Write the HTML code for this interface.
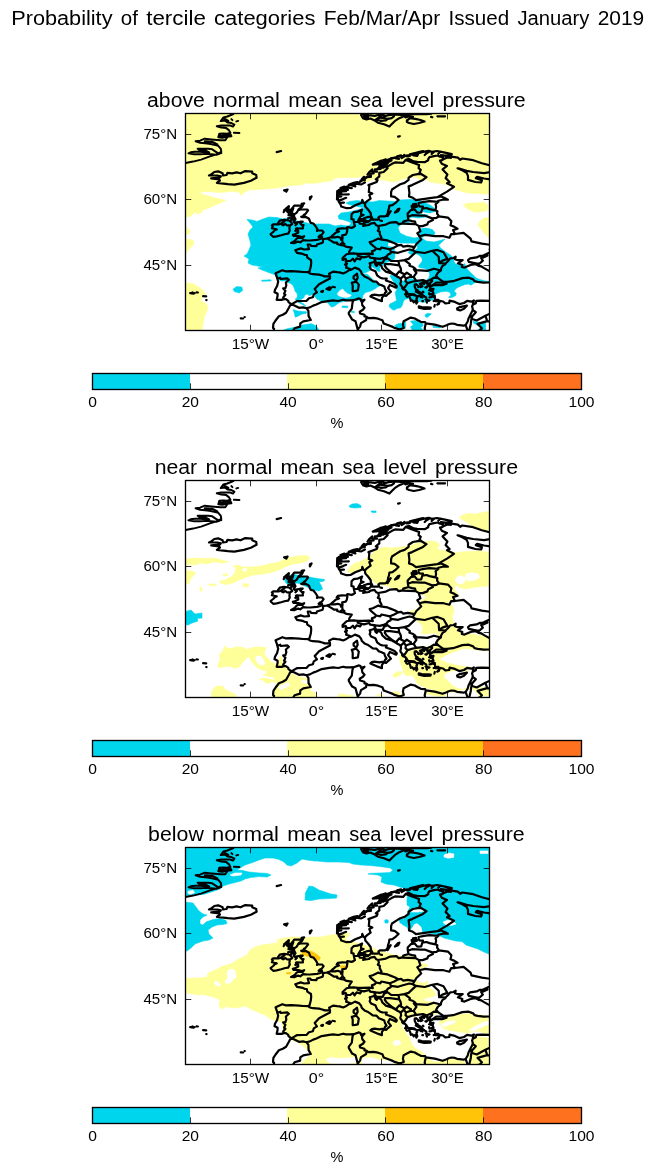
<!DOCTYPE html>
<html><head><meta charset="utf-8"><title>Probability of tercile categories</title>
<style>html,body{margin:0;padding:0;background:#fff}svg{display:block}text{font-family:"Liberation Sans",sans-serif;fill:#000}</style></head><body>
<div style="width:655px;height:1174px;will-change:transform;transform:translateZ(0);overflow:hidden">
<svg width="655" height="1174" viewBox="0 0 655 1174">
<rect width="655" height="1174" fill="#fff"/>
<defs>
<clipPath id="mapclip"><rect x="185.5" y="113.5" width="304" height="217"/></clipPath>
<g id="coast" fill="none" stroke="#000" stroke-width="2.2" stroke-linejoin="round" stroke-linecap="round">
<path d="M216.9,182.9 L227.8,184.2 L234.3,184.7 L243.9,182.9 L250.9,180.7 L256.6,177.7 L256.2,175.0 L252.2,173.3 L252.2,171.6 L245.3,171.1 L240.5,173.3 L236.5,172.4 L232.2,173.3 L227.4,172.9 L226.5,175.0 L223.0,175.5 L222.6,173.3 L218.2,171.3 L214.3,172.0 L211.6,174.2 L209.0,175.5 L217.3,175.5 L220.8,176.4 L219.5,177.7 L211.2,178.3 L219.1,179.4 L219.9,180.7 L216.9,182.9Z M291.1,242.9 L294.2,243.2 L298.1,241.6 L300.3,242.3 L302.9,240.1 L307.3,240.5 L310.3,240.5 L316.9,239.9 L320.4,239.0 L322.1,238.1 L322.1,237.1 L318.6,236.8 L319.9,235.5 L321.7,234.9 L323.6,232.2 L322.1,230.5 L318.2,230.3 L316.9,230.9 L317.5,229.6 L316.4,227.4 L315.1,225.7 L313.4,223.5 L310.8,222.9 L309.9,221.3 L309.0,218.7 L307.3,217.8 L306.0,217.0 L302.0,217.1 L301.2,216.8 L304.6,215.7 L303.8,215.0 L305.5,213.9 L306.8,212.2 L308.1,210.4 L307.3,209.5 L300.7,209.5 L298.1,210.2 L299.0,208.9 L302.0,206.9 L302.9,205.4 L294.2,205.6 L292.9,207.4 L290.7,210.0 L291.5,211.3 L290.7,213.5 L288.9,213.9 L291.5,215.2 L292.0,217.0 L291.1,220.0 L293.3,219.2 L294.6,217.4 L295.5,219.2 L293.7,221.8 L294.6,222.9 L298.5,222.2 L300.7,221.6 L302.7,221.6 L300.3,223.5 L302.0,225.3 L303.6,225.0 L302.7,226.8 L302.9,228.3 L301.2,228.5 L296.8,228.3 L295.9,228.8 L297.0,229.6 L295.3,230.9 L298.1,230.5 L298.3,232.5 L295.5,234.0 L292.9,234.9 L293.7,236.0 L297.2,236.0 L299.0,236.2 L302.0,237.1 L304.2,236.2 L302.9,237.9 L297.7,237.9 L296.4,238.8 L295.3,240.3 L293.9,241.4 L291.1,242.9Z M288.3,233.7 L285.4,234.0 L281.1,235.3 L276.7,236.4 L273.2,236.8 L271.5,235.3 L270.6,234.0 L273.2,232.0 L275.0,230.1 L276.7,229.4 L271.9,228.3 L272.8,226.6 L271.9,225.3 L273.2,224.4 L278.9,224.4 L278.0,223.1 L279.8,220.7 L284.1,219.8 L288.9,220.5 L291.1,222.2 L292.2,224.0 L289.8,225.7 L289.4,228.8 L289.8,230.5 L288.9,232.2 L288.3,233.7Z M495.0,171.6 L490.7,172.0 L484.1,173.1 L473.2,172.0 L466.6,170.9 L459.2,168.5 L457.5,168.3 L462.3,170.2 L466.6,172.9 L468.0,175.9 L468.0,179.9 L475.4,182.0 L481.1,182.5 L481.9,180.3 L475.8,178.1 L477.1,176.8 L484.1,178.5 L490.7,179.4 L492.9,179.9 L495.0,175.5 M497.2,169.8 L495.0,168.1 L492.0,165.9 L481.9,163.3 L473.2,160.2 L462.3,158.5 L460.1,159.8 L457.9,157.6 L451.4,156.7 L450.5,156.7 L446.1,156.3 L451.8,154.1 L442.6,152.1 L437.0,151.0 L431.7,151.9 L428.7,150.8 L423.0,151.9 L418.6,153.2 L409.9,155.0 L399.0,156.7 L392.4,158.0 L385.9,160.6 L381.5,160.6 L372.8,164.6 L383.7,163.7 L388.1,162.8 L383.7,167.6 L378.9,167.6 L372.8,172.4 L370.6,175.5 L364.9,178.5 L359.7,182.0 L355.3,184.2 L350.9,185.1 L346.6,186.8 L338.7,189.9 L337.8,192.9 L337.4,195.1 L337.8,197.8 L338.7,201.7 L340.5,204.3 L341.3,206.5 L346.6,208.2 L350.9,207.8 L355.3,205.2 L358.8,203.9 L361.9,202.6 L362.3,199.9 L363.6,203.0 L364.9,203.4 L365.3,206.5 L368.0,209.5 L370.6,213.0 L371.0,215.7 L372.3,218.3 L372.3,219.6 L378.0,219.6 L378.9,218.9 L378.4,217.4 L380.2,216.3 L384.1,216.3 L385.9,216.1 L387.6,213.9 L388.1,210.9 L388.9,208.7 L389.4,205.6 L392.4,205.2 L395.9,202.6 L398.5,199.9 L394.6,196.9 L391.1,196.4 L391.1,192.1 L392.0,189.5 L396.8,186.4 L400.3,184.2 L404.6,182.9 L408.6,179.9 L408.6,177.7 L412.9,175.0 L417.7,174.2 L421.5,174.2 L426.5,177.2 L423.0,179.9 L416.4,182.9 L412.1,185.1 L408.6,186.4 L409.0,189.5 L409.4,192.9 L409.0,196.4 L412.9,197.8 L416.0,200.2 L424.7,198.8 L431.7,197.8 L437.4,197.1 L441.3,196.4 L445.7,198.6 L447.9,199.7 L442.6,199.7 L438.3,200.8 L438.3,201.9 L429.5,201.2 L423.9,201.9 L418.6,203.0 L418.6,205.2 L419.5,206.5 L423.0,206.7 L422.3,208.7 L421.2,212.4 L417.3,212.6 L414.7,209.5 L410.8,210.2 L407.7,213.5 L407.7,214.8 L407.9,216.7 L408.1,218.3 L408.6,220.0 L403.3,221.6 L402.9,222.9 L401.6,223.7 L398.7,224.2 L396.8,222.4 L395.9,222.1 L390.2,222.6 L385.9,224.6 L378.2,226.0 L376.3,225.3 L374.5,222.9 L370.6,223.7 L368.8,225.0 L364.0,225.7 L363.2,225.9 L364.5,224.0 L359.7,223.7 L359.2,222.2 L357.9,221.3 L358.8,219.2 L360.5,216.3 L363.6,215.0 L361.0,214.3 L361.0,212.6 L362.1,209.5 L357.5,211.7 L353.6,212.2 L351.6,214.3 L351.4,218.9 L353.6,219.6 L353.8,221.8 L354.4,224.4 L354.9,226.1 L353.1,227.4 L351.4,227.9 L347.4,227.0 L346.6,228.5 L342.2,228.3 L337.8,228.8 L336.7,230.3 L339.1,231.4 L335.6,232.7 L333.9,234.4 L331.7,236.2 L330.7,237.2 L327.1,238.5 L323.0,239.2 L323.0,241.4 L322.6,242.7 L316.9,244.5 L316.4,246.2 L311.2,246.0 L310.3,244.5 L307.7,244.5 L309.0,249.1 L304.2,249.5 L300.7,248.4 L295.3,250.2 L297.0,252.8 L302.9,253.9 L305.1,255.0 L306.8,255.0 L307.3,257.6 L311.0,260.0 L311.2,262.8 L310.8,266.5 L309.4,271.6 L308.1,272.1 L302.9,272.0 L299.4,271.6 L291.1,271.1 L285.4,271.3 L282.4,270.2 L275.6,273.3 L277.1,277.7 L277.3,278.7 L278.2,281.8 L277.1,286.0 L275.0,289.7 L274.5,292.2 L275.8,292.7 L277.6,293.8 L277.6,295.8 L276.7,299.8 L281.5,299.9 L283.7,299.1 L285.9,299.1 L288.3,300.8 L288.5,302.1 L291.5,304.3 L292.6,303.6 L296.8,301.2 L302.9,301.0 L306.4,301.0 L309.0,298.2 L312.9,297.3 L313.8,294.3 L316.9,292.3 L314.7,289.0 L319.1,284.2 L325.6,280.7 L330.0,278.5 L330.0,276.2 L329.1,273.7 L333.0,271.6 L337.0,272.2 L339.6,272.4 L343.1,273.5 L345.3,272.6 L348.8,270.3 L351.8,269.4 L354.9,267.6 L358.8,269.1 L361.0,271.6 L361.9,274.0 L364.5,276.4 L367.5,277.7 L369.7,279.2 L372.8,281.4 L376.3,281.6 L378.0,283.3 L378.7,284.2 L381.5,285.3 L384.3,286.6 L385.0,289.0 L386.5,291.6 L385.0,292.9 L384.3,295.6 L386.3,295.8 L388.3,293.8 L390.9,291.6 L388.1,288.1 L389.8,284.9 L394.6,287.1 L396.3,287.7 L396.8,286.2 L394.6,284.0 L390.2,282.0 L385.9,280.5 L386.7,278.5 L382.4,278.4 L380.2,277.7 L377.1,275.3 L375.4,271.3 L371.0,269.4 L369.7,267.2 L370.4,265.0 L369.7,263.3 L373.2,262.2 L376.0,262.2 L374.9,263.0 L375.4,264.6 L376.7,265.9 L378.4,263.7 L381.1,265.4 L382.4,268.5 L385.9,271.6 L392.4,273.7 L395.0,275.3 L396.8,276.4 L399.4,277.7 L400.7,278.8 L401.1,281.2 L400.3,283.8 L400.9,285.3 L403.3,288.1 L406.4,291.2 L408.1,294.0 L410.8,294.0 L413.8,294.3 L416.0,295.6 L412.9,294.9 L410.8,294.7 L409.0,296.0 L410.3,298.6 L410.8,300.8 L412.5,300.4 L413.8,302.3 L415.3,300.8 L417.3,302.3 L416.4,298.6 L417.3,297.8 L416.4,296.0 L419.5,295.8 L421.0,297.1 L421.0,294.7 L417.7,292.5 L415.8,291.6 L416.4,290.3 L417.7,290.3 L416.0,289.5 L414.7,286.8 L414.7,284.6 L416.0,284.2 L418.2,286.0 L418.2,287.1 L419.9,286.4 L420.8,287.1 L422.5,286.2 L419.9,283.8 L422.5,282.7 L426.0,282.7 L429.8,283.6 L430.4,285.5 L430.4,286.6 L432.6,285.1 L436.1,282.7 L442.4,282.5 L443.1,281.6 L438.3,278.3 L436.1,275.9 L437.8,272.9 L440.9,270.5 L441.1,268.5 L442.6,265.9 L445.5,264.1 L445.5,263.5 L447.9,261.3 L450.3,258.4 L453.5,258.0 L455.7,256.7 L454.9,259.3 L457.9,260.2 L462.7,260.0 L457.9,263.3 L462.3,265.0 L461.8,267.0 L464.5,267.6 L470.6,265.0 L475.4,264.1 L475.8,263.3 L468.8,261.9 L468.0,260.0 L470.1,258.4 L476.7,257.4 L480.0,255.8 L482.8,255.8 L487.6,255.4 L483.2,257.6 L481.1,258.0 L482.8,260.6 L479.3,263.7 L476.7,263.7 L476.3,264.6 L478.9,265.9 L481.1,266.3 L484.1,268.1 L489.4,271.1 L495.0,273.7 M495.0,281.2 L489.4,282.5 L483.7,282.7 L477.6,281.8 L474.5,281.2 L473.2,279.4 L468.8,277.7 L462.3,278.1 L453.1,281.2 L447.0,281.8 L443.1,281.6 L442.6,282.5 L446.6,283.6 L442.2,285.1 L437.8,285.1 L435.2,284.9 L432.6,285.5 L430.4,286.8 L430.0,289.0 L433.5,288.8 L432.6,291.2 L433.5,293.6 L430.8,294.3 L434.8,296.0 L435.0,298.4 L435.2,299.9 L438.3,299.9 L435.6,301.2 L439.6,300.8 L443.1,301.5 L445.3,303.4 L449.2,303.0 L449.6,300.6 L454.9,301.9 L459.2,304.1 L464.0,303.0 L467.1,300.8 L471.5,301.7 L473.9,300.4 L472.8,304.3 L472.8,304.7 L472.1,306.5 L472.8,309.1 L472.3,311.1 L471.0,313.5 L469.3,317.0 L468.6,318.3 L467.7,321.5 L465.8,324.8 L463.6,325.7 L457.0,324.8 L454.9,323.9 L451.4,323.5 L448.7,324.2 L446.6,325.3 L442.6,326.8 L434.8,324.6 L425.8,323.3 L425.2,322.2 L420.8,321.8 L417.3,320.0 L414.9,318.5 L410.8,317.6 L403.6,321.3 L402.9,324.8 L403.8,327.9 L401.6,328.8 L399.0,329.3 L394.6,327.9 L392.0,326.6 L388.5,325.3 L383.7,323.5 L382.4,320.2 L378.0,318.7 L373.6,317.8 L368.4,318.1 L366.4,316.7 L364.5,316.5 L364.5,314.8 L360.1,313.5 L359.7,311.7 L362.9,309.8 L364.5,307.8 L362.3,305.2 L361.9,302.6 L364.5,299.7 L361.0,300.8 L360.5,299.1 L359.0,298.4 L353.6,300.2 L349.8,300.4 L346.1,300.4 L343.1,299.7 L338.3,301.0 L333.0,300.4 L329.3,300.8 L321.7,302.1 L316.4,304.5 L313.2,305.6 L309.9,307.4 L306.4,308.2 L303.1,307.4 L299.0,307.8 L292.9,304.7 L290.2,305.2 L288.9,307.8 L286.1,312.8 L282.8,314.8 L278.9,316.3 L275.6,320.5 L273.4,323.9 L273.0,327.9 L274.1,328.8 L273.6,330.9 M357.0,273.7 L357.7,277.7 L356.2,280.7 L353.6,278.5 L353.6,276.4 L355.3,275.0 L357.0,273.7Z M356.2,281.6 L358.8,284.6 L357.9,290.3 L355.3,290.8 L352.7,291.2 L352.7,285.5 L351.8,282.9 L356.2,281.6Z M384.3,294.5 L381.9,298.2 L381.9,301.2 L378.4,299.9 L370.4,296.4 L371.9,295.1 L374.5,294.7 L379.3,295.3 L384.3,294.5Z M418.8,306.3 L421.7,307.1 L428.2,307.4 L430.8,307.6 L430.4,308.7 L424.3,308.9 L418.8,307.6 L418.8,306.3Z M457.0,308.4 L459.7,307.1 L466.9,305.7 L464.0,308.7 L460.1,310.4 L457.5,309.8 L457.0,308.4Z M326.5,289.0 L329.5,287.3 L331.1,288.1 L329.5,289.9 L326.5,289.0Z M321.2,291.6 L323.0,290.8 L322.6,291.9 L321.2,291.6Z M332.6,286.8 L334.8,287.3 L332.6,286.8Z M395.0,212.6 L398.1,209.1 L399.4,208.7 L398.1,211.3 L395.0,212.6Z M387.6,216.1 L390.7,211.1 L387.6,216.1Z M412.1,208.2 L411.6,206.1 L416.4,205.6 L416.9,206.7 L412.1,208.2Z M412.9,204.3 L416.0,203.9 L416.0,204.7 L412.9,204.3Z M364.0,218.3 L365.3,220.5 L368.4,221.6 L370.6,220.0 L371.0,218.3 L371.0,216.7 L367.1,217.2 L364.0,218.3Z M358.8,219.2 L362.7,219.2 L363.2,220.9 L359.7,220.9 L358.8,219.2Z M364.0,222.2 L368.0,222.2 L364.0,222.2Z M380.2,220.5 L381.9,220.9 L380.2,220.5Z M284.1,190.3 L287.6,189.5 L286.3,191.6 L284.1,190.3Z M309.9,199.5 L311.6,196.4 L309.9,197.3 L309.9,199.5Z M301.6,203.9 L304.2,203.4 L302.9,204.5 L301.6,203.9Z M285.4,209.1 L288.9,206.1 L288.5,208.2 L285.4,209.1Z M283.7,212.2 L284.6,209.8 L283.7,212.2Z M287.2,210.9 L289.4,210.0 L289.8,211.9 L287.2,210.9Z M288.5,215.2 L290.7,214.8 L288.5,215.2Z M288.1,218.3 L289.8,217.8 L288.1,218.3Z M295.5,225.3 L296.8,224.0 L295.5,225.3Z M276.7,152.1 L281.1,151.0 L276.7,152.1Z M398.1,136.6 L399.8,136.2 L398.1,136.6Z M190.2,293.2 L193.7,293.6 L192.9,292.9 L190.2,293.2Z M192.4,292.5 L194.6,293.2 L192.4,292.5Z M196.6,292.4 L197.9,292.5 L196.6,292.4Z M203.1,296.2 L206.2,296.4 L203.1,296.2Z M206.2,300.1 L206.6,300.1Z M240.7,318.3 L243.1,318.5 L240.7,318.3Z M244.6,317.1 L244.8,317.1Z M416.4,291.6 L419.1,292.3 L421.7,294.7 L423.2,295.6 L421.2,292.9 L418.2,291.2 L416.4,291.6Z M429.1,290.3 L432.2,289.9 L431.7,291.2 L429.1,290.3Z M429.1,293.2 L430.2,294.5 L429.5,294.7 L429.1,293.2Z M432.2,296.7 L434.1,296.9 L432.2,296.7Z M429.5,297.3 L431.1,297.1Z M437.2,304.7 L439.4,302.3 L438.7,304.1 L437.2,304.7Z M433.7,301.0 L435.2,300.4Z M434.3,306.7 L434.8,305.0Z M425.4,287.3 L426.9,287.1 L426.3,287.7 L425.4,287.3Z M423.2,283.8 L424.1,284.0Z M427.4,284.8 L428.0,284.9Z M428.4,286.2 L429.5,286.2Z M423.0,291.6 L423.4,292.1Z M423.9,295.8 L424.9,296.7Z M425.4,297.1 L426.3,297.5Z M426.9,299.3 L427.8,299.9 L427.1,300.2 L426.9,299.3Z M425.6,299.5 L426.3,299.9Z M422.1,297.1 L422.5,297.5Z M422.3,301.2 L423.0,301.2Z M426.5,301.2 L426.9,302.6Z M428.7,300.8 L429.5,300.4Z M416.2,303.0 L416.4,303.6Z M405.1,294.3 L406.4,294.9 L406.0,293.8 L405.1,294.3Z M406.4,296.2 L407.3,296.9Z M402.0,287.9 L402.9,289.2 L403.8,289.5Z M406.0,292.1 L406.2,292.9Z M337.8,194.7 L343.1,194.5 L348.8,194.3 M339.6,200.4 L343.1,199.1 L346.1,197.8 M337.8,191.2 L342.2,191.4 L346.1,191.2 M342.2,188.8 L347.9,189.9 M346.6,187.5 L351.8,188.1 M355.3,183.6 L361.4,184.4 L364.9,182.5 M340.0,202.8 L343.9,202.6 M337.8,196.9 L341.3,196.4 M337.4,192.9 L341.3,193.2 M339.1,190.5 L343.1,190.3 M351.8,185.5 L355.3,186.4 M360.5,180.7 L364.9,179.9 M366.2,177.2 L371.0,176.8 M369.3,173.7 L373.6,173.3 M371.9,171.1 L377.1,171.6 M374.9,169.4 L380.6,168.9 M372.8,164.6 L377.1,163.5 L381.5,162.4 L385.0,160.6 L385.9,159.3 L382.4,160.6 M379.3,166.3 L384.1,165.0 L387.6,163.3 M375.4,164.1 L379.8,162.6 M383.7,161.9 L388.5,161.9 L391.5,160.6 M390.2,159.3 L394.6,157.8 L391.1,158.0 M395.9,158.5 L399.0,158.9 M401.6,158.0 L404.6,156.3 L404.2,155.0 M406.8,156.3 L409.9,155.8 M413.4,155.4 L417.3,155.8 L418.2,153.7 M424.7,155.0 L426.5,153.2 L429.1,151.7 M431.7,153.9 L433.9,151.9 M438.3,153.7 L440.4,151.7 M440.9,155.2 L445.3,155.6 L451.4,155.6 M414.2,153.2 L418.6,152.1 L423.0,151.2 M409.9,154.3 L414.7,153.0 M401.1,155.4 L397.2,156.3 M337.0,199.5 L337.2,191.2 M340.5,188.1 L344.4,186.6 M348.8,184.7 L353.6,182.9 L357.5,182.0 M361.9,179.0 L364.0,176.8 M367.5,174.6 L369.3,172.0 L372.3,169.4 M293.3,208.2 L292.4,210.9 M291.5,212.6 L293.3,213.9 L292.4,215.7 M294.2,216.1 L292.4,217.8 M285.9,210.4 L284.1,210.0 M288.5,210.0 L287.2,211.7 M288.9,214.8 L290.7,215.7 M293.7,218.3 L292.9,219.2 M289.8,212.6 L288.1,212.6 M294.2,214.3 L296.8,212.6 L297.7,210.9 M364.9,203.4 L367.5,200.8 L370.6,198.6 L369.3,195.1 L372.3,193.6 L368.8,192.1 L369.3,186.4 L368.4,185.1 L376.7,182.0 L377.6,179.9 L375.8,179.4 L379.3,176.4 L379.3,172.9 L383.7,172.0 L387.6,168.1 L386.3,167.2 L391.5,164.1 L395.0,162.4 L403.3,162.8 L405.7,159.9 M405.7,159.9 L412.1,162.4 L419.1,165.0 L418.6,168.1 L420.8,169.8 L419.5,172.4 L421.5,174.2 M405.7,159.9 L409.0,158.9 L413.8,161.4 L417.3,161.8 L424.7,162.2 L428.2,160.3 L428.2,159.1 L429.5,157.1 L433.9,156.1 L437.8,155.5 L440.0,156.7 L443.1,157.1 L442.3,160.0 M442.3,160.0 L443.9,158.9 L447.4,157.4 L450.9,157.8 L450.5,156.7 M442.3,160.0 L440.0,160.6 L441.8,163.7 L447.0,165.9 L442.6,169.4 L447.4,174.6 L445.7,178.1 L449.6,182.0 L447.0,183.3 L454.0,186.8 L447.0,191.6 L437.4,197.1 M438.3,201.9 L435.6,204.3 L436.1,206.9 L435.4,210.3 M422.3,208.7 L426.5,208.0 L429.5,209.1 L435.4,210.3 M435.4,210.3 L437.4,211.3 L437.0,213.5 L439.1,216.3 M439.1,216.3 L436.5,217.8 L432.2,218.4 M407.9,216.7 L412.1,215.2 L420.8,215.7 L425.2,215.7 L432.2,218.4 M432.2,218.4 L433.0,220.0 L428.2,222.2 L427.4,224.4 L422.5,226.1 L418.6,225.9 M418.6,225.9 L415.6,224.1 M415.6,224.1 L415.1,221.6 L412.1,221.1 L408.9,220.2 M415.6,224.1 L402.5,223.7 M418.6,225.9 L420.4,231.4 L417.3,233.1 L419.3,236.2 M419.3,236.2 L421.2,239.5 L416.4,244.0 L414.5,247.2 M414.5,247.2 L407.7,245.8 L403.3,246.7 L401.1,244.9 L398.3,245.3 M398.3,245.3 L394.6,243.2 L389.8,241.4 L387.2,240.3 L380.7,239.4 M380.7,239.4 L381.5,237.5 L379.8,234.4 L379.8,231.8 L377.8,230.7 L378.9,228.8 L378.2,226.0 M380.7,239.4 L378.4,238.6 L372.8,241.2 L369.7,242.1 L370.6,243.6 L376.3,248.5 M376.3,248.5 L374.5,250.4 L371.9,251.2 L372.8,254.1 L369.3,253.6 L361.9,253.9 L357.9,253.9 M357.9,253.9 L353.6,253.4 L349.2,253.7 M349.2,253.7 L349.2,251.5 L351.8,247.7 L346.6,246.9 L343.8,245.5 M343.8,245.5 L344.4,244.0 L342.6,242.5 L341.1,243.8 L341.3,245.1 L343.8,245.5 M342.6,242.5 L342.2,239.9 M342.2,239.9 L342.6,237.9 L342.2,235.3 L345.7,234.7 L346.8,232.7 L347.4,229.2 L346.6,228.5 M342.2,239.9 L340.9,239.7 L341.3,238.1 L337.8,236.8 L334.8,237.3 L330.7,237.2 M327.1,238.5 L330.0,240.1 L334.3,242.7 L337.2,242.5 L337.2,244.0 L341.3,245.1 M349.2,253.7 L346.6,254.3 L342.6,258.0 L342.6,260.0 L345.7,258.9 L346.7,261.0 M346.7,261.0 L345.7,261.9 L347.0,263.7 L345.0,264.6 L346.6,266.3 L346.1,267.8 L349.6,268.7 L348.8,270.3 M346.7,261.0 L350.3,261.0 L352.9,258.7 L354.6,261.3 L356.6,258.4 L360.1,259.5 L361.6,256.9 M361.6,256.9 L357.7,255.8 L357.9,253.9 M361.6,256.9 L364.0,257.4 L369.3,256.0 L370.1,257.6 L375.8,258.4 M375.8,258.4 L374.5,259.8 L375.4,261.1 L376.0,262.4 M375.8,258.4 L379.8,258.9 L384.3,257.6 L386.3,256.8 M386.3,256.8 L388.1,254.5 L390.7,253.2 L390.9,251.9 M390.9,251.9 L390.0,249.3 M390.0,249.3 L381.5,247.5 L380.2,249.3 L376.3,248.5 M390.0,249.3 L394.2,247.5 L398.3,245.3 M390.9,251.9 L398.1,252.8 L402.9,251.2 L409.4,249.5 L412.7,250.2 M412.7,250.2 L414.5,247.2 M412.7,250.2 L416.0,251.9 M416.0,251.9 L408.6,258.9 L404.4,260.1 M404.4,260.1 L398.5,261.0 M398.5,261.0 L391.1,260.9 L387.4,258.2 M387.4,258.2 L386.3,256.8 M387.4,258.2 L384.1,259.8 L382.8,262.8 L379.3,262.8 L375.4,262.9 M398.5,261.0 L399.0,264.1 L399.2,265.4 M399.2,265.4 L390.2,264.1 L385.0,264.1 L384.8,265.9 L386.7,268.5 L392.9,273.5 L396.6,275.7 M399.2,265.4 L400.7,268.1 L401.1,271.1 L399.0,271.6 M399.0,271.6 L396.8,274.2 L396.6,275.7 M399.0,271.6 L404.9,274.4 L403.6,275.7 M403.6,275.7 L400.7,278.8 M403.6,275.7 L406.0,278.5 M406.0,278.5 L405.5,281.2 L407.6,283.1 M407.6,283.1 L405.1,286.8 L403.3,288.1 M407.6,283.1 L412.1,281.8 L416.2,280.9 M416.2,280.9 L413.6,276.8 M413.6,276.8 L409.9,277.0 L406.0,278.5 M413.6,276.8 L416.4,272.9 L413.8,269.4 L415.0,268.5 M415.0,268.5 L412.5,266.7 L409.4,265.7 L409.9,264.1 L404.4,260.1 M415.0,268.5 L416.4,270.2 L427.4,270.9 L433.9,268.7 L440.9,270.5 M416.2,280.9 L423.0,280.1 L426.5,281.4 L431.1,279.4 M431.1,279.4 L433.9,277.7 L438.3,278.1 M431.1,279.4 L432.2,280.9 L429.8,283.6 M416.0,251.9 L424.7,253.0 L432.2,250.8 M432.2,250.8 L438.7,256.7 L439.1,263.0 M439.1,263.0 L445.5,263.5 M432.2,250.8 L437.4,249.9 L443.5,252.3 L447.4,258.9 L442.4,260.6 L439.1,263.0 M419.3,236.2 L425.2,234.9 L434.8,236.2 L443.5,236.2 L449.4,237.7 L451.1,234.2 L454.9,234.0 M439.1,216.3 L447.9,217.6 L451.4,221.3 L450.5,225.3 L454.0,226.6 L457.5,228.8 L453.1,230.1 L454.9,234.0 M454.9,234.0 L463.6,232.9 L470.6,238.6 L471.5,241.4 L481.9,243.6 L491.1,244.9 L489.8,249.3 L490.2,252.3 L482.8,255.8 M472.8,304.7 L475.8,303.2 L476.3,300.8 L481.9,300.6 L490.7,300.8 L499.4,299.1 M473.0,310.2 L475.8,312.2 L472.5,315.9 M469.3,317.0 L472.3,316.1 M472.3,316.1 L471.5,318.7 L471.2,320.0 L470.8,323.9 L468.8,332.5 M465.6,324.8 L468.4,332.7 M471.5,318.7 L476.7,320.5 L485.4,315.7 L495.0,311.3 M487.2,321.1 L477.6,323.9 L481.9,328.3 L479.8,330.5 L476.3,331.4 M485.4,315.7 L487.2,321.1 L492.4,322.0 L499.4,325.7 M425.8,323.3 L424.7,328.3 L425.2,330.9 M366.4,316.7 L366.2,320.0 L361.0,323.1 L360.1,326.6 L357.7,329.4 M353.6,300.2 L352.5,302.6 L351.8,308.7 L348.8,312.6 L348.8,313.9 L352.2,319.6 L355.5,321.3 L357.7,329.4 L358.8,331.4 M306.4,308.2 L308.4,310.9 L308.6,316.1 L310.8,320.0 L303.3,321.3 L300.3,323.3 L300.1,326.6 L294.6,328.3 L292.9,330.9 M277.3,278.7 L280.2,277.7 L280.6,279.0 L287.2,278.3 L288.9,279.8 L285.9,282.5 L286.3,285.5 L285.4,288.1 L283.2,288.4 L285.4,290.8 L284.1,293.8 L285.4,294.7 L283.2,297.5 L283.7,299.1 M308.1,272.1 L309.9,273.5 L312.9,274.2 L319.1,274.6 L322.3,275.5 L324.7,276.4 L329.8,276.2 M353.8,221.8 L357.9,222.0 M284.6,221.1 L283.2,222.4 L280.6,223.7 L283.2,225.3 L285.4,224.0 L287.2,225.5 L288.7,225.3 M404.9,274.4 L406.8,272.6 L409.4,274.4 L411.0,275.3 L410.1,277.0 M361.1,115.1 L364.2,114.3 L368.7,115.1 L374.8,115.9 L381.0,114.3 L385.5,115.9 L382.5,117.4 L377.9,118.2 L374.8,120.5 L377.9,122.7 L384.0,124.3 L389.4,126.6 L391.6,124.3 L394.7,121.2 L399.3,118.2 L403.9,116.3 L407.7,115.4 L400.8,114.8 L394.7,114.5 L388.6,115.1 L385.5,115.9 M361.1,115.1 L361.9,116.6 L363.4,118.5 L366.5,119.4 L370.3,118.5 L374.8,120.5 M364.2,116.3 L368.0,116.9 L365.7,117.9 M381.0,114.3 L379.4,116.6 L383.2,118.2 L387.8,118.9 L385.5,120.5 L381.0,120.9 L377.9,120.0 M387.8,118.9 L391.6,118.2 L393.9,116.3 M406.9,120.5 L410.0,118.2 L415.3,118.9 L420.6,120.0 L424.5,121.5 L419.1,123.0 L413.8,124.0 L409.2,123.0 L406.9,122.0Z M405.4,117.4 L409.2,116.3 L413.0,116.9 L410.0,118.2 M394.7,114.0 L405.4,114.2 L416.1,113.9 L426.8,114.2 L431.3,113.6 M431.0,116.9 L432.3,117.2 M437.4,116.3 L445.1,116.3"/>
<path stroke-width="2.0" d="M233.4,114.0 L227.3,116.5 L223.3,117.5 L220.8,121.1 L225.3,120.6 L227.8,122.6 L231.4,123.1 L234.4,124.6 L232.9,126.6 L230.4,125.6 L226.3,125.6 L221.3,125.6 L216.8,126.3 L221.3,127.6 L226.3,128.1 L228.8,130.1 L230.4,132.7 L227.3,133.7 L223.3,133.4 L219.3,133.7 L218.3,137.2 L222.3,137.7 L227.3,136.7 L231.4,136.2 L230.4,134.2 L228.3,135.2 L226.3,138.7 L225.3,140.2 L220.3,140.2 L214.2,139.7 L209.2,139.2 L204.7,138.7 L200.1,140.7 L195.6,141.2 L200.1,142.7 L205.2,143.2 L209.2,143.7 L214.2,144.8 L218.3,145.8 L220.8,148.8 L221.3,151.8 L218.3,153.3 L215.2,151.3 L212.2,149.3 L208.2,148.8 L203.2,148.8 L197.6,148.8 L202.1,150.3 L206.2,150.8 L209.2,152.3 L205.2,152.3 L200.1,151.8 L195.1,151.8 L190.6,152.3 L188.5,153.3 L194.1,154.3 L200.1,154.3 L206.2,153.8 L211.2,154.3 L216.3,154.8 L219.3,153.8 M231.4,119.1 L232.4,120.1 M236.4,121.4 L238.2,120.9 M233.9,132.7 L239.4,133.0 M223.3,134.7 L227.3,135.2 M206.2,141.2 L213.2,142.2 L217.3,144.3 M185.5,163.0 L193.1,161.6 L201.1,159.6 L209.2,156.6 L217.3,154.1 L221.3,153.1 M222.8,118.3 L225.8,119.3 L228.3,120.9 M218.8,135.5 L221.8,136.0 L224.8,135.8 M204.7,141.2 L208.2,141.7 L212.2,141.7 M199.1,150.3 L203.2,151.1 L207.2,151.5"/>
</g>
<g id="cbar"><rect x="92.50" y="373.5" width="97.50" height="16" fill="#00d5ee"/><rect x="190.00" y="373.5" width="97.00" height="16" fill="#ffffff"/><rect x="287.00" y="373.5" width="98.00" height="16" fill="#ffff99"/><rect x="385.00" y="373.5" width="98.00" height="16" fill="#ffc408"/><rect x="483.00" y="373.5" width="98.50" height="16" fill="#fe711e"/><line x1="190.50" y1="389.5" x2="190.50" y2="383.3" stroke="#000" stroke-width="0.8"/><line x1="288.50" y1="389.5" x2="288.50" y2="383.3" stroke="#000" stroke-width="0.8"/><line x1="385.50" y1="389.5" x2="385.50" y2="383.3" stroke="#000" stroke-width="0.8"/><line x1="483.50" y1="389.5" x2="483.50" y2="383.3" stroke="#000" stroke-width="0.8"/><rect x="92.5" y="373.5" width="489.0" height="16" fill="none" stroke="#000" stroke-width="1.33"/><text x="92.50" y="407" font-size="13.8" text-anchor="middle" textLength="8.7" lengthAdjust="spacingAndGlyphs">0</text><text x="190.30" y="407" font-size="13.8" text-anchor="middle" textLength="17.3" lengthAdjust="spacingAndGlyphs">20</text><text x="288.10" y="407" font-size="13.8" text-anchor="middle" textLength="17.3" lengthAdjust="spacingAndGlyphs">40</text><text x="385.90" y="407" font-size="13.8" text-anchor="middle" textLength="17.3" lengthAdjust="spacingAndGlyphs">60</text><text x="483.70" y="407" font-size="13.8" text-anchor="middle" textLength="17.3" lengthAdjust="spacingAndGlyphs">80</text><text x="581.50" y="407" font-size="13.8" text-anchor="middle" textLength="26.0" lengthAdjust="spacingAndGlyphs">100</text><text x="337" y="428" font-size="13.8" text-anchor="middle" textLength="12.9" lengthAdjust="spacingAndGlyphs">%</text></g>
</defs>
<text x="11.2" y="25" font-size="20.0" textLength="101.3" lengthAdjust="spacingAndGlyphs">Probability</text><text x="120.8" y="25" font-size="20.0" textLength="17.1" lengthAdjust="spacingAndGlyphs">of</text><text x="146.2" y="25" font-size="20.0" textLength="59.7" lengthAdjust="spacingAndGlyphs">tercile</text><text x="214.1" y="25" font-size="20.0" textLength="101.3" lengthAdjust="spacingAndGlyphs">categories</text><text x="323.7" y="25" font-size="20.0" textLength="116.5" lengthAdjust="spacingAndGlyphs">Feb/Mar/Apr</text><text x="448.5" y="25" font-size="20.0" textLength="60.7" lengthAdjust="spacingAndGlyphs">Issued</text><text x="517.5" y="25" font-size="20.0" textLength="71.9" lengthAdjust="spacingAndGlyphs">January</text><text x="597.7" y="25" font-size="20.0" textLength="46.5" lengthAdjust="spacingAndGlyphs">2019</text>
<g transform="translate(0,0.0)">
<text x="147.1" y="107" font-size="20.0" textLength="57.7" lengthAdjust="spacingAndGlyphs">above</text><text x="213.1" y="107" font-size="20.0" textLength="66.9" lengthAdjust="spacingAndGlyphs">normal</text><text x="288.2" y="107" font-size="20.0" textLength="53.7" lengthAdjust="spacingAndGlyphs">mean</text><text x="350.2" y="107" font-size="20.0" textLength="32.3" lengthAdjust="spacingAndGlyphs">sea</text><text x="390.8" y="107" font-size="20.0" textLength="43.5" lengthAdjust="spacingAndGlyphs">level</text><text x="442.6" y="107" font-size="20.0" textLength="83.1" lengthAdjust="spacingAndGlyphs">pressure</text>
<g clip-path="url(#mapclip)">
<path fill="#ffff99" stroke="#ffff99" stroke-width="0.6" stroke-linejoin="round" d="M184.0,112.0 L491.0,112.0 L491.0,194.0 L489.0,194.0 L484.0,194.0 L476.0,193.4 L468.0,193.0 L460.0,191.0 L454.0,189.0 L450.0,186.0 L444.0,184.0 L436.0,183.0 L430.0,182.0 L426.0,179.4 L420.0,180.0 L415.0,177.0 L408.0,178.0 L400.0,180.0 L396.0,182.0 L388.0,181.0 L382.0,180.0 L378.0,178.6 L372.0,180.0 L366.0,182.0 L360.0,181.0 L365.0,176.0 L357.0,177.4 L347.0,177.4 L335.0,178.0 L333.0,180.6 L323.0,182.0 L314.0,183.4 L307.0,183.0 L301.0,185.0 L291.0,185.4 L281.0,187.4 L271.0,188.6 L259.0,189.4 L249.0,190.0 L244.0,192.6 L241.0,195.4 L239.0,192.0 L231.0,191.4 L221.0,192.6 L213.0,192.0 L205.0,191.4 L199.0,192.6 L203.0,194.6 L209.0,196.0 L215.0,198.0 L222.0,199.4 L226.0,200.6 L220.0,203.0 L215.0,205.0 L209.0,208.0 L203.0,210.0 L201.0,213.0 L197.0,214.0 L195.0,212.0 L191.0,216.0 L187.0,217.0 L184.0,218.0Z"/>
<path fill="#ffff99" stroke="#ffff99" stroke-width="0.6" stroke-linejoin="round" d="M184.0,226.6 L187.0,227.4 L190.4,231.0 L188.4,234.2 L184.0,235.4Z"/>
<path fill="#ffff99" stroke="#ffff99" stroke-width="0.6" stroke-linejoin="round" d="M184.0,238.6 L193.0,240.0 L194.0,244.0 L190.0,248.0 L187.0,252.0 L184.0,252.6Z"/>
<path fill="#ffff99" stroke="#ffff99" stroke-width="0.6" stroke-linejoin="round" d="M183.0,282.9 L193.0,283.6 L201.8,289.1 L205.5,294.1 L200.5,300.4 L206.8,304.1 L208.0,309.1 L204.3,316.7 L201.8,331.7 L183.0,331.7Z"/>
<path fill="#ffff99" stroke="#ffff99" stroke-width="0.6" stroke-linejoin="round" d="M463.0,205.0 L468.0,203.0 L476.0,203.0 L484.0,202.0 L488.0,205.0 L488.0,210.0 L480.0,212.0 L474.0,212.0 L468.0,209.0Z"/>
<path fill="#ffff99" stroke="#ffff99" stroke-width="0.6" stroke-linejoin="round" d="M492.0,217.6 L484.0,218.0 L480.0,221.0 L478.0,225.0 L481.0,229.0 L484.0,233.0 L488.0,237.0 L492.0,238.4Z"/>
<path fill="#00d5ee" stroke="#00d5ee" stroke-width="0.6" stroke-linejoin="round" d="M247.0,219.4 L252.0,220.0 L257.0,221.4 L263.0,219.0 L269.0,217.0 L277.0,217.6 L283.0,219.0 L287.0,218.0 L291.0,219.4 L295.0,220.6 L303.0,222.0 L311.0,224.0 L319.0,224.0 L329.0,224.0 L335.0,226.0 L341.0,225.0 L348.0,226.0 L351.0,224.0 L350.0,222.0 L344.0,220.0 L339.0,219.0 L338.0,216.0 L341.0,213.0 L349.0,212.0 L353.0,211.0 L359.0,209.4 L365.0,208.0 L360.0,207.0 L355.0,206.0 L349.0,204.6 L346.0,203.0 L350.0,201.4 L357.0,200.6 L365.0,201.4 L373.0,202.0 L379.0,200.6 L387.0,201.0 L395.0,201.4 L400.0,200.0 L410.0,199.4 L418.0,200.0 L424.0,202.0 L430.0,205.0 L434.0,208.0 L436.0,211.0 L430.0,213.0 L424.0,212.0 L420.0,211.0 L416.0,212.0 L420.0,214.0 L428.0,215.0 L426.0,217.0 L418.0,218.0 L412.0,217.0 L408.0,219.0 L410.0,222.0 L405.0,223.0 L400.0,225.0 L398.0,228.0 L400.0,233.0 L406.0,236.0 L414.0,238.0 L420.0,237.0 L419.0,233.0 L420.0,229.0 L426.0,228.0 L432.0,230.0 L435.0,234.0 L430.0,235.0 L424.0,235.0 L422.0,238.0 L426.0,241.0 L434.0,242.0 L440.0,240.6 L445.0,239.0 L443.0,241.0 L440.4,243.5 L438.6,245.3 L440.4,247.8 L444.0,250.8 L447.7,253.3 L451.4,255.7 L453.2,258.0 L453.9,261.2 L455.0,263.6 L458.7,264.9 L461.8,265.5 L464.8,263.6 L466.0,267.3 L468.5,270.4 L471.0,273.0 L474.0,276.0 L477.0,278.5 L480.7,279.7 L485.0,281.0 L491.0,281.5 L491.0,282.3 L485.0,281.8 L480.7,280.8 L477.0,281.5 L473.4,283.4 L471.0,285.2 L468.5,284.0 L464.8,284.6 L460.0,286.4 L456.3,288.3 L453.9,291.3 L456.3,293.2 L455.7,295.6 L452.0,297.4 L448.4,297.4 L450.8,295.6 L450.2,292.5 L446.5,291.3 L440.4,291.9 L436.0,293.8 L435.0,296.0 L434.3,299.3 L430.6,300.5 L427.0,301.7 L423.3,302.3 L419.7,301.7 L416.0,302.3 L412.3,300.5 L408.7,298.6 L405.0,299.3 L403.2,301.7 L402.6,304.8 L400.7,307.8 L397.1,308.4 L394.0,310.3 L391.6,309.0 L389.1,306.6 L389.7,304.1 L393.4,302.3 L396.5,300.5 L395.8,296.2 L395.2,292.5 L397.1,288.9 L396.5,285.2 L393.4,281.5 L390.3,276.7 L390.0,276.1 L392.1,274.7 L390.0,272.5 L387.6,270.0 L385.2,267.6 L383.3,265.2 L380.3,265.8 L379.7,268.8 L380.3,271.3 L377.8,271.3 L375.4,268.8 L372.3,267.0 L370.5,268.2 L369.9,270.6 L366.2,272.5 L365.0,272.5 L362.6,273.7 L367.4,274.3 L369.9,276.5 L372.3,279.0 L375.4,281.4 L378.4,283.8 L381.5,286.3 L383.0,284.2 L380.6,285.2 L377.5,287.0 L373.9,289.5 L370.2,291.3 L365.3,292.5 L362.9,295.6 L362.3,299.3 L356.8,300.5 L351.3,299.3 L348.2,300.5 L343.3,301.7 L339.7,302.3 L337.2,304.1 L334.8,306.0 L331.7,307.2 L329.9,305.4 L327.4,302.3 L325.0,301.7 L325.0,302.3 L320.7,300.8 L317.1,299.3 L314.6,296.2 L313.4,293.8 L311.6,295.0 L309.1,295.6 L307.3,294.0 L304.8,295.0 L303.6,298.0 L301.2,299.3 L297.5,300.5 L295.1,299.3 L296.9,298.0 L297.5,295.6 L296.9,293.2 L295.1,291.3 L294.5,288.9 L293.2,285.8 L290.8,283.4 L287.1,282.2 L285.3,280.9 L281.6,280.9 L278.6,279.7 L276.1,277.3 L274.9,274.8 L262.0,270.0 L258.0,268.0 L263.0,267.0 L252.0,265.0 L248.0,263.0 L249.0,259.0 L244.0,256.0 L247.0,254.0 L249.0,250.0 L251.0,245.0 L250.0,241.0 L248.0,234.0 L250.0,230.0 L253.0,227.0 L250.0,223.0 L247.0,219.4Z"/>
<path fill="#ffffff" stroke="#ffffff" stroke-width="0.6" stroke-linejoin="round" d="M395.5,243.8 L416.3,243.8 L416.9,248.1 L413.9,250.5 L410.2,249.9 L407.7,252.3 L409.6,254.5 L412.6,255.4 L415.7,254.2 L418.7,255.4 L421.2,257.8 L421.8,260.9 L420.0,263.3 L418.1,265.8 L418.1,267.6 L421.2,268.5 L425.5,269.2 L427.9,271.3 L429.1,274.3 L428.5,277.7 L426.1,279.8 L422.4,280.7 L418.7,280.1 L415.1,278.8 L411.4,278.0 L407.7,278.8 L405.3,280.1 L401.6,280.4 L399.8,278.2 L397.4,277.0 L394.9,275.8 L392.1,274.7 L390.0,272.5 L387.6,270.0 L385.2,267.6 L383.3,265.2 L385.8,263.3 L389.4,262.1 L393.3,260.3 L395.2,258.4 L395.5,253.5 L394.9,248.7Z"/>
<path fill="#ffffff" stroke="#ffffff" stroke-width="0.6" stroke-linejoin="round" d="M388.5,243.1 L393.4,242.3 L398.3,243.5 L405.6,244.3 L405.6,246.5 L398.3,245.9 L392.2,246.5 L388.5,245.9Z"/>
<path fill="#ffffff" stroke="#ffffff" stroke-width="0.6" stroke-linejoin="round" d="M337.2,293.8 L339.7,290.7 L342.7,289.1 L344.5,291.3 L347.6,293.8 L351.3,295.0 L350.0,296.8 L345.8,297.4 L341.5,296.8 L338.4,295.6Z"/>
<path fill="#00d5ee" stroke="#00d5ee" stroke-width="0.6" stroke-linejoin="round" d="M420.9,230.0 L423.3,228.8 L428.2,228.5 L432.5,229.7 L434.9,232.5 L433.7,234.3 L429.4,233.7 L424.5,233.1 L421.5,232.5Z"/>
<path fill="#00d5ee" stroke="#00d5ee" stroke-width="0.6" stroke-linejoin="round" d="M293.2,309.6 L297.5,310.9 L302.4,311.5 L306.7,311.8 L306.1,313.3 L302.4,313.9 L300.0,315.1 L297.5,316.4 L295.3,317.2 L294.5,313.9Z"/>
<path fill="#00d5ee" stroke="#00d5ee" stroke-width="0.6" stroke-linejoin="round" d="M282.9,330.4 L287.7,328.6 L293.9,327.4 L298.7,326.7 L302.4,324.9 L307.3,324.3 L311.6,323.7 L315.2,325.5 L318.3,328.6 L318.3,330.4Z"/>
<path fill="#00d5ee" stroke="#00d5ee" stroke-width="0.6" stroke-linejoin="round" d="M261.5,280.3 L270.6,279.7 L271.3,280.9 L262.1,281.3Z"/>
<path fill="#00d5ee" stroke="#00d5ee" stroke-width="0.6" stroke-linejoin="round" d="M298.1,302.3 L302.4,304.5 L306.1,306.6 L303.6,303.8 L300.0,302.1Z"/>
<path fill="#00d5ee" stroke="#00d5ee" stroke-width="0.6" stroke-linejoin="round" d="M394.6,325.5 L398.3,323.7 L403.2,323.1 L405.6,321.9 L405.6,328.2 L400.7,328.6 L397.1,328.0Z"/>
<path fill="#00d5ee" stroke="#00d5ee" stroke-width="0.6" stroke-linejoin="round" d="M342.1,306.0 L347.6,306.0 L347.6,307.8 L342.1,307.4Z"/>
<path fill="#00d5ee" stroke="#00d5ee" stroke-width="0.6" stroke-linejoin="round" d="M351.3,310.9 L354.3,311.5 L354.3,312.7 L351.3,312.3Z"/>
<path fill="#00d5ee" stroke="#00d5ee" stroke-width="0.6" stroke-linejoin="round" d="M425.2,314.5 L428.2,313.3 L431.3,313.9 L429.4,315.7 L427.0,317.6 L425.2,316.4Z"/>
<path fill="#00d5ee" stroke="#00d5ee" stroke-width="0.6" stroke-linejoin="round" d="M410.5,321.2 L414.8,320.6 L418.4,321.9 L422.1,323.1 L423.3,325.5 L420.9,327.4 L423.3,330.4 L412.3,330.4 L410.5,326.7 L413.5,324.9Z"/>
<path fill="#00d5ee" stroke="#00d5ee" stroke-width="0.6" stroke-linejoin="round" d="M433.1,325.8 L440.4,326.7 L440.4,328.0 L433.1,327.4Z"/>
<path fill="#00d5ee" stroke="#00d5ee" stroke-width="0.6" stroke-linejoin="round" d="M473.4,321.2 L477.1,321.9 L480.7,323.1 L485.6,321.2 L485.6,330.4 L478.3,330.4 L480.7,326.7 L477.1,324.9 L473.4,323.1Z"/>
<path fill="#00d5ee" stroke="#00d5ee" stroke-width="0.6" stroke-linejoin="round" d="M233.1,289.1 L236.8,286.6 L241.8,287.1 L242.6,290.4 L239.3,292.9 L234.3,291.6Z"/>
<use href="#coast"/>
</g>
<line x1="250.5" y1="330.5" x2="250.5" y2="324.7" stroke="#000" stroke-width="0.8"/><line x1="250.5" y1="113.5" x2="250.5" y2="119.3" stroke="#000" stroke-width="0.8"/><text x="250.5" y="349" font-size="13.8" text-anchor="middle" textLength="37.5" lengthAdjust="spacingAndGlyphs">15°W</text>
<line x1="316.5" y1="330.5" x2="316.5" y2="324.7" stroke="#000" stroke-width="0.8"/><line x1="316.5" y1="113.5" x2="316.5" y2="119.3" stroke="#000" stroke-width="0.8"/><text x="316.5" y="349" font-size="13.8" text-anchor="middle" textLength="15.4" lengthAdjust="spacingAndGlyphs">0°</text>
<line x1="381.5" y1="330.5" x2="381.5" y2="324.7" stroke="#000" stroke-width="0.8"/><line x1="381.5" y1="113.5" x2="381.5" y2="119.3" stroke="#000" stroke-width="0.8"/><text x="381.5" y="349" font-size="13.8" text-anchor="middle" textLength="32.7" lengthAdjust="spacingAndGlyphs">15°E</text>
<line x1="447.5" y1="330.5" x2="447.5" y2="324.7" stroke="#000" stroke-width="0.8"/><line x1="447.5" y1="113.5" x2="447.5" y2="119.3" stroke="#000" stroke-width="0.8"/><text x="447.5" y="349" font-size="13.8" text-anchor="middle" textLength="32.7" lengthAdjust="spacingAndGlyphs">30°E</text>
<line x1="185.5" y1="265.5" x2="191.3" y2="265.5" stroke="#000" stroke-width="0.8"/><line x1="489.5" y1="265.5" x2="483.7" y2="265.5" stroke="#000" stroke-width="0.8"/><text x="143.4" y="270.2" font-size="13.8" textLength="33.8" lengthAdjust="spacingAndGlyphs">45°N</text>
<line x1="185.5" y1="199.5" x2="191.3" y2="199.5" stroke="#000" stroke-width="0.8"/><line x1="489.5" y1="199.5" x2="483.7" y2="199.5" stroke="#000" stroke-width="0.8"/><text x="143.4" y="204.2" font-size="13.8" textLength="33.8" lengthAdjust="spacingAndGlyphs">60°N</text>
<line x1="185.5" y1="134.5" x2="191.3" y2="134.5" stroke="#000" stroke-width="0.8"/><line x1="489.5" y1="134.5" x2="483.7" y2="134.5" stroke="#000" stroke-width="0.8"/><text x="143.4" y="139.2" font-size="13.8" textLength="33.8" lengthAdjust="spacingAndGlyphs">75°N</text>
<rect x="185.5" y="113.5" width="304" height="217" fill="none" stroke="#000" stroke-width="1.33"/>
<use href="#cbar"/>
</g>
<g transform="translate(0,367.0)">
<text x="154.7" y="107" font-size="20.0" textLength="42.5" lengthAdjust="spacingAndGlyphs">near</text><text x="205.5" y="107" font-size="20.0" textLength="66.9" lengthAdjust="spacingAndGlyphs">normal</text><text x="280.6" y="107" font-size="20.0" textLength="53.7" lengthAdjust="spacingAndGlyphs">mean</text><text x="342.6" y="107" font-size="20.0" textLength="32.3" lengthAdjust="spacingAndGlyphs">sea</text><text x="383.2" y="107" font-size="20.0" textLength="43.5" lengthAdjust="spacingAndGlyphs">level</text><text x="435.0" y="107" font-size="20.0" textLength="83.1" lengthAdjust="spacingAndGlyphs">pressure</text>
<g clip-path="url(#mapclip)">
<path fill="#ffff99" stroke="#ffff99" stroke-width="0.6" stroke-linejoin="round" d="M184.0,192.4 L193.0,191.0 L203.0,191.6 L213.0,191.0 L220.0,192.4 L229.0,195.0 L223.0,196.0 L213.0,195.0 L207.0,197.0 L201.0,196.0 L195.0,198.0 L189.0,197.6 L184.0,198.0Z"/>
<path fill="#ffff99" stroke="#ffff99" stroke-width="0.6" stroke-linejoin="round" d="M220.0,214.0 L225.0,213.0 L231.0,210.0 L235.0,206.0 L236.0,201.0 L233.0,199.0 L238.0,198.0 L243.0,200.0 L251.0,200.0 L261.0,199.0 L269.0,197.0 L279.0,195.0 L287.0,191.0 L297.0,189.0 L307.0,188.4 L310.0,191.0 L307.0,194.0 L301.0,196.0 L293.0,197.0 L285.0,200.0 L279.0,203.0 L271.0,205.6 L263.0,207.0 L253.0,208.0 L247.0,210.0 L239.0,213.0 L233.0,216.0 L226.0,217.6 L220.0,216.0Z"/>
<path fill="#ffff99" stroke="#ffff99" stroke-width="0.6" stroke-linejoin="round" d="M184.0,204.0 L192.0,204.0 L196.0,206.0 L193.0,209.0 L190.0,213.0 L189.0,217.0 L184.0,217.0Z"/>
<path fill="#ffff99" stroke="#ffff99" stroke-width="0.6" stroke-linejoin="round" d="M209.0,217.0 L216.0,217.0 L216.0,219.0 L209.0,218.4Z"/>
<path fill="#ffff99" stroke="#ffff99" stroke-width="0.6" stroke-linejoin="round" d="M243.0,216.4 L249.0,217.0 L248.0,220.0 L243.0,219.6Z"/>
<path fill="#ffff99" stroke="#ffff99" stroke-width="0.6" stroke-linejoin="round" d="M223.0,207.0 L228.0,207.0 L227.0,209.0 L223.0,208.4Z"/>
<path fill="#ffff99" stroke="#ffff99" stroke-width="0.6" stroke-linejoin="round" d="M200.0,220.4 L202.0,220.4 L202.0,224.0 L200.0,224.0Z"/>
<path fill="#ffffff" stroke="#ffffff" stroke-width="0.6" stroke-linejoin="round" d="M243.0,201.4 L246.6,201.4 L246.6,204.0 L243.0,204.0Z"/>
<path fill="#ffff99" stroke="#ffff99" stroke-width="0.6" stroke-linejoin="round" d="M347.0,205.0 L350.0,200.0 L355.0,196.0 L361.0,194.0 L367.0,191.0 L371.0,188.0 L375.0,184.0 L381.0,181.0 L384.0,180.0 L392.0,181.0 L400.0,180.0 L408.0,179.0 L414.0,177.0 L420.0,175.4 L426.0,174.6 L432.0,174.0 L437.0,175.0 L440.0,178.0 L437.0,181.0 L440.0,183.0 L448.0,183.4 L454.0,186.0 L460.0,185.0 L468.0,184.6 L476.0,184.0 L484.0,184.6 L491.0,185.4 L491.0,219.0 L489.0,219.0 L482.0,219.6 L474.0,220.4 L466.0,222.0 L460.0,221.0 L457.0,218.0 L454.0,221.0 L456.0,224.0 L458.0,227.0 L456.0,230.0 L450.0,234.0 L447.0,233.0 L450.2,236.7 L453.2,240.3 L453.9,245.2 L452.0,248.9 L452.6,252.5 L453.9,255.6 L451.4,257.4 L455.0,259.3 L458.7,262.3 L461.8,265.4 L463.6,267.8 L467.3,266.6 L471.6,267.2 L475.8,267.8 L480.7,268.4 L485.0,269.0 L491.0,270.0 L491.0,322.0 L462.4,322.6 L456.3,324.5 L451.4,325.0 L446.5,325.7 L441.6,325.0 L436.8,323.9 L431.9,322.6 L425.8,320.8 L420.9,318.4 L417.2,316.5 L416.0,314.0 L414.0,310.0 L411.0,308.0 L407.0,309.0 L404.0,307.0 L402.6,301.3 L400.7,297.0 L399.5,292.0 L399.5,288.4 L403.2,286.6 L405.0,286.0 L405.0,282.0 L409.0,281.5 L417.0,280.6 L423.0,280.0 L429.0,279.4 L433.0,278.2 L437.4,277.0 L438.0,273.3 L439.8,269.6 L437.4,267.2 L433.7,266.0 L429.4,266.6 L424.5,267.2 L420.9,266.0 L422.0,264.0 L422.7,260.5 L420.9,257.4 L417.8,255.0 L418.4,252.5 L416.0,250.0 L413.0,247.0 L410.0,245.2 L412.0,243.0 L415.4,243.4 L418.4,240.3 L422.0,236.7 L420.9,233.0 L422.0,233.0 L426.0,230.0 L422.0,227.0 L418.0,225.0 L414.0,224.0 L413.0,221.0 L408.0,222.0 L402.0,223.0 L395.0,222.0 L387.0,219.0 L380.0,217.6 L375.0,216.0 L371.0,212.0 L368.0,208.0 L365.0,204.0 L359.0,204.0 L353.0,206.0Z"/>
<path fill="#ffffff" stroke="#ffffff" stroke-width="0.6" stroke-linejoin="round" d="M490.5,284.8 L475.8,283.5 L469.7,282.3 L463.6,282.3 L457.5,284.2 L451.4,286.6 L445.3,289.0 L440.4,292.3 L445.3,294.5 L451.4,296.4 L456.3,297.6 L461.2,298.2 L468.5,299.4 L473.4,300.0 L478.3,299.4 L490.5,298.8Z"/>
<path fill="#ffffff" stroke="#ffffff" stroke-width="0.6" stroke-linejoin="round" d="M444.7,310.4 L445.3,306.8 L453.9,304.3 L462.4,303.7 L468.5,305.5 L469.1,301.3 L473.4,300.4 L490.5,299.2 L490.5,320.2 L478.3,320.8 L473.4,321.4 L468.5,319.6 L462.4,322.0 L456.3,320.2 L451.4,317.1 L447.7,312.9Z"/>
<path fill="#ffffff" stroke="#ffffff" stroke-width="0.6" stroke-linejoin="round" d="M456.0,211.0 L460.0,208.4 L464.0,210.0 L466.0,213.0 L463.0,216.4 L458.0,217.0 L455.6,214.0Z"/>
<path fill="#ffffff" stroke="#ffffff" stroke-width="0.6" stroke-linejoin="round" d="M466.0,207.0 L472.0,205.6 L478.0,207.0 L480.0,210.0 L475.0,213.0 L469.0,214.0 L465.0,211.0Z"/>
<path fill="#ffff99" stroke="#ffff99" stroke-width="0.6" stroke-linejoin="round" d="M462.0,148.0 L468.0,146.6 L476.0,147.0 L484.0,145.0 L494.0,144.0 L494.0,165.0 L482.0,164.0 L478.0,161.0 L472.0,159.0 L468.0,156.0 L463.0,153.0 L459.0,151.0Z"/>
<path fill="#ffff99" stroke="#ffff99" stroke-width="0.6" stroke-linejoin="round" d="M409.9,245.2 L412.3,243.7 L415.4,243.4 L414.2,247.0Z"/>
<path fill="#ffff99" stroke="#ffff99" stroke-width="0.6" stroke-linejoin="round" d="M392.8,308.0 L395.8,305.5 L399.5,304.3 L401.9,305.5 L400.7,308.0 L397.1,309.8 L394.0,310.4Z"/>
<path fill="#ffff99" stroke="#ffff99" stroke-width="0.6" stroke-linejoin="round" d="M338.4,326.9 L340.9,327.5 L344.5,326.9 L347.6,328.1 L354.3,328.7 L354.3,331.2 L338.4,331.2Z"/>
<path fill="#ffff99" stroke="#ffff99" stroke-width="0.6" stroke-linejoin="round" d="M377.5,327.5 L381.2,326.9 L382.4,328.7 L377.5,329.4Z"/>
<path fill="#ffff99" stroke="#ffff99" stroke-width="0.6" stroke-linejoin="round" d="M392.8,325.1 L397.1,324.5 L400.7,326.3 L399.5,328.7 L395.8,327.5 L392.8,326.3Z"/>
<path fill="#ffff99" stroke="#ffff99" stroke-width="0.6" stroke-linejoin="round" d="M425.2,324.5 L431.9,323.9 L439.2,325.7 L445.3,326.3 L446.5,328.7 L439.2,329.4 L431.9,328.1 L425.8,326.9Z"/>
<path fill="#ffff99" stroke="#ffff99" stroke-width="0.6" stroke-linejoin="round" d="M473.4,321.4 L478.3,320.8 L490.5,320.2 L490.5,328.7 L480.7,329.4 L477.1,326.3 L474.6,323.9Z"/>
<path fill="#ffff99" stroke="#ffff99" stroke-width="0.6" stroke-linejoin="round" d="M245.0,283.5 L249.9,281.1 L257.2,280.5 L266.4,280.5 L265.2,283.5 L263.9,287.2 L266.4,289.7 L269.4,293.3 L273.1,295.8 L276.1,297.6 L279.2,293.3 L280.4,288.4 L282.3,292.1 L282.9,297.0 L285.3,299.4 L287.7,301.3 L290.2,304.3 L293.9,308.0 L298.7,309.8 L303.6,310.4 L307.3,311.6 L308.5,315.3 L310.3,318.4 L311.6,321.4 L308.5,323.2 L313.4,324.5 L315.8,327.5 L316.5,332.4 L271.3,332.4 L272.5,327.5 L273.3,323.9 L274.9,320.2 L277.4,316.5 L274.9,315.3 L271.3,314.7 L269.4,316.5 L265.8,315.9 L263.3,313.5 L259.0,312.3 L263.3,311.0 L268.2,311.6 L273.1,312.9 L275.5,311.6 L271.9,309.8 L267.0,309.2 L263.3,308.0 L267.0,306.1 L266.4,303.7 L262.1,303.1 L258.4,301.3 L256.0,299.4 L255.4,295.8 L252.3,293.3 L249.9,289.7 L247.4,288.4 L245.0,290.9Z"/>
<path fill="#ffffff" stroke="#ffffff" stroke-width="0.6" stroke-linejoin="round" d="M254.8,289.0 L258.4,288.4 L262.1,289.7 L263.3,293.3 L265.2,296.4 L263.3,298.2 L259.7,297.6 L257.2,295.8 L256.0,292.7Z"/>
<path fill="#ffffff" stroke="#ffffff" stroke-width="0.6" stroke-linejoin="round" d="M278.6,320.2 L281.6,318.4 L285.3,316.5 L288.4,315.3 L289.6,318.4 L286.5,320.2 L282.9,322.0 L279.8,322.0Z"/>
<path fill="#ffffff" stroke="#ffffff" stroke-width="0.6" stroke-linejoin="round" d="M301.8,313.5 L304.8,312.9 L307.3,314.1 L306.7,316.5 L303.6,316.3 L301.8,315.3Z"/>
<path fill="#ffff99" stroke="#ffff99" stroke-width="0.6" stroke-linejoin="round" d="M217.8,300.0 L218.4,295.8 L220.3,292.1 L219.0,287.8 L221.5,286.0 L223.3,282.3 L225.1,278.7 L227.0,281.1 L231.2,281.7 L235.5,279.9 L240.4,279.9 L244.7,281.1 L247.1,283.5 L249.0,286.0 L250.8,282.3 L253.8,280.5 L258.7,279.9 L263.0,280.5 L263.0,289.0 L259.3,288.2 L255.7,289.0 L254.5,292.1 L256.3,295.8 L258.7,298.8 L263.0,300.6 L263.0,302.5 L258.7,301.3 L255.1,298.8 L251.4,294.5 L249.0,289.0 L246.5,291.5 L243.5,294.5 L241.0,297.6 L238.6,300.6 L234.3,301.3 L230.6,299.4 L225.7,299.4 L220.9,300.6Z"/>
<path fill="#ffff99" stroke="#ffff99" stroke-width="0.6" stroke-linejoin="round" d="M211.1,332.4 L211.7,325.1 L214.1,320.8 L216.6,319.0 L223.3,319.2 L224.5,322.0 L228.2,323.9 L231.9,325.7 L235.5,327.5 L237.4,332.4Z"/>
<path fill="#00d5ee" stroke="#00d5ee" stroke-width="0.6" stroke-linejoin="round" d="M184.0,245.0 L191.0,243.0 L195.0,247.0 L202.0,246.0 L202.0,251.0 L197.0,251.6 L198.0,254.0 L192.0,256.0 L188.0,258.0 L184.0,257.6Z"/>
<path fill="#00d5ee" stroke="#00d5ee" stroke-width="0.6" stroke-linejoin="round" d="M284.0,212.0 L289.0,208.4 L295.0,207.6 L301.0,209.0 L309.0,210.0 L317.0,211.6 L324.6,212.4 L324.0,214.0 L319.0,215.0 L321.0,218.0 L322.6,222.0 L319.0,224.0 L314.0,223.0 L309.0,221.0 L305.0,219.0 L301.0,217.0 L297.0,216.0 L293.0,217.0 L289.0,218.4 L286.0,216.0Z"/>
<path fill="#00d5ee" stroke="#00d5ee" stroke-width="0.6" stroke-linejoin="round" d="M349.0,139.0 L352.0,137.0 L357.0,136.6 L361.0,138.6 L361.0,140.6 L355.0,141.0 L350.0,140.4Z"/>
<path fill="#00d5ee" stroke="#00d5ee" stroke-width="0.6" stroke-linejoin="round" d="M371.0,144.0 L376.0,144.0 L376.0,145.6 L372.0,145.6Z"/>
<use href="#coast"/>
</g>
<line x1="250.5" y1="330.5" x2="250.5" y2="324.7" stroke="#000" stroke-width="0.8"/><line x1="250.5" y1="113.5" x2="250.5" y2="119.3" stroke="#000" stroke-width="0.8"/><text x="250.5" y="349" font-size="13.8" text-anchor="middle" textLength="37.5" lengthAdjust="spacingAndGlyphs">15°W</text>
<line x1="316.5" y1="330.5" x2="316.5" y2="324.7" stroke="#000" stroke-width="0.8"/><line x1="316.5" y1="113.5" x2="316.5" y2="119.3" stroke="#000" stroke-width="0.8"/><text x="316.5" y="349" font-size="13.8" text-anchor="middle" textLength="15.4" lengthAdjust="spacingAndGlyphs">0°</text>
<line x1="381.5" y1="330.5" x2="381.5" y2="324.7" stroke="#000" stroke-width="0.8"/><line x1="381.5" y1="113.5" x2="381.5" y2="119.3" stroke="#000" stroke-width="0.8"/><text x="381.5" y="349" font-size="13.8" text-anchor="middle" textLength="32.7" lengthAdjust="spacingAndGlyphs">15°E</text>
<line x1="447.5" y1="330.5" x2="447.5" y2="324.7" stroke="#000" stroke-width="0.8"/><line x1="447.5" y1="113.5" x2="447.5" y2="119.3" stroke="#000" stroke-width="0.8"/><text x="447.5" y="349" font-size="13.8" text-anchor="middle" textLength="32.7" lengthAdjust="spacingAndGlyphs">30°E</text>
<line x1="185.5" y1="265.5" x2="191.3" y2="265.5" stroke="#000" stroke-width="0.8"/><line x1="489.5" y1="265.5" x2="483.7" y2="265.5" stroke="#000" stroke-width="0.8"/><text x="143.4" y="270.2" font-size="13.8" textLength="33.8" lengthAdjust="spacingAndGlyphs">45°N</text>
<line x1="185.5" y1="199.5" x2="191.3" y2="199.5" stroke="#000" stroke-width="0.8"/><line x1="489.5" y1="199.5" x2="483.7" y2="199.5" stroke="#000" stroke-width="0.8"/><text x="143.4" y="204.2" font-size="13.8" textLength="33.8" lengthAdjust="spacingAndGlyphs">60°N</text>
<line x1="185.5" y1="134.5" x2="191.3" y2="134.5" stroke="#000" stroke-width="0.8"/><line x1="489.5" y1="134.5" x2="483.7" y2="134.5" stroke="#000" stroke-width="0.8"/><text x="143.4" y="139.2" font-size="13.8" textLength="33.8" lengthAdjust="spacingAndGlyphs">75°N</text>
<rect x="185.5" y="113.5" width="304" height="217" fill="none" stroke="#000" stroke-width="1.33"/>
<use href="#cbar"/>
</g>
<g transform="translate(0,734.0)">
<text x="148.1" y="107" font-size="20.0" textLength="55.7" lengthAdjust="spacingAndGlyphs">below</text><text x="212.1" y="107" font-size="20.0" textLength="66.9" lengthAdjust="spacingAndGlyphs">normal</text><text x="287.2" y="107" font-size="20.0" textLength="53.7" lengthAdjust="spacingAndGlyphs">mean</text><text x="349.2" y="107" font-size="20.0" textLength="32.3" lengthAdjust="spacingAndGlyphs">sea</text><text x="389.8" y="107" font-size="20.0" textLength="43.5" lengthAdjust="spacingAndGlyphs">level</text><text x="441.6" y="107" font-size="20.0" textLength="83.1" lengthAdjust="spacingAndGlyphs">pressure</text>
<g clip-path="url(#mapclip)">
<path fill="#ffff99" stroke="#ffff99" stroke-width="0.6" stroke-linejoin="round" d="M184.0,245.0 L193.0,244.0 L201.0,244.0 L207.0,243.0 L208.0,239.0 L213.0,237.0 L219.0,234.0 L223.0,232.0 L231.0,230.0 L235.0,227.0 L241.0,224.0 L247.0,221.0 L250.0,216.0 L255.0,213.0 L261.0,211.0 L269.0,210.0 L277.0,209.0 L278.0,205.0 L285.0,204.0 L291.0,203.0 L299.0,203.0 L307.0,203.6 L314.0,203.0 L321.0,203.0 L331.0,201.0 L339.0,200.0 L345.0,199.0 L350.0,200.0 L348.0,203.0 L345.0,205.0 L349.0,207.0 L355.0,208.4 L361.0,210.0 L367.0,212.0 L373.0,214.0 L379.0,217.0 L387.0,219.0 L395.0,221.0 L402.0,222.0 L408.0,222.0 L414.0,223.0 L418.0,226.0 L420.0,229.0 L426.0,230.0 L428.0,232.0 L422.0,234.0 L419.0,237.0 L419.0,242.0 L416.0,245.0 L418.0,248.0 L424.0,249.0 L428.0,247.0 L427.0,251.0 L430.0,254.0 L434.0,257.0 L436.0,261.0 L432.0,263.0 L426.0,264.0 L423.0,266.0 L428.0,267.6 L435.0,268.0 L438.0,271.0 L437.0,275.0 L439.0,278.0 L436.0,280.0 L431.0,281.0 L426.0,280.4 L420.0,281.0 L415.0,282.4 L410.0,283.0 L406.0,284.4 L403.0,287.0 L401.0,290.0 L403.0,295.0 L406.0,299.0 L409.0,303.0 L411.0,308.0 L413.0,312.0 L418.0,316.0 L422.0,318.0 L426.0,322.0 L429.0,325.0 L432.0,327.0 L438.0,328.0 L444.0,327.0 L448.0,325.0 L454.0,324.0 L460.0,325.0 L464.0,326.0 L466.0,334.0 L301.0,334.0 L303.0,327.0 L307.0,324.0 L311.0,321.0 L308.0,317.0 L304.0,313.0 L299.0,309.0 L294.0,307.0 L290.0,304.0 L286.0,300.0 L283.0,296.0 L282.0,288.0 L277.0,287.0 L273.0,286.0 L269.0,284.0 L265.0,281.0 L260.0,279.0 L255.0,277.0 L249.0,274.0 L244.0,272.0 L239.0,273.6 L233.0,274.0 L226.0,272.4 L223.0,275.0 L220.0,273.6 L219.0,270.0 L220.0,266.0 L215.0,263.6 L209.0,262.0 L203.0,260.4 L197.0,261.0 L191.0,259.6 L184.0,259.0Z"/>
<path fill="#ffffff" stroke="#ffffff" stroke-width="0.6" stroke-linejoin="round" d="M228.0,236.0 L233.0,235.0 L235.4,238.0 L236.0,243.0 L233.0,246.0 L230.0,249.0 L226.0,249.6 L225.0,247.0 L228.0,244.0 L227.0,240.0Z"/>
<path fill="#ffffff" stroke="#ffffff" stroke-width="0.6" stroke-linejoin="round" d="M214.0,248.0 L217.0,247.6 L221.0,251.0 L219.0,252.4 L215.0,250.4Z"/>
<path fill="#ffffff" stroke="#ffffff" stroke-width="0.6" stroke-linejoin="round" d="M326.0,325.0 L331.0,323.6 L339.0,324.4 L347.0,324.0 L355.0,323.6 L359.0,326.0 L355.0,329.0 L347.0,330.0 L337.0,330.0 L329.0,329.0Z"/>
<path fill="#ffffff" stroke="#ffffff" stroke-width="0.6" stroke-linejoin="round" d="M362.0,325.0 L368.0,323.6 L374.0,324.4 L380.0,326.0 L388.0,326.4 L394.0,328.0 L395.0,333.0 L362.0,333.0Z"/>
<path fill="#ffffff" stroke="#ffffff" stroke-width="0.6" stroke-linejoin="round" d="M393.0,308.0 L396.0,306.0 L400.0,307.0 L400.6,310.0 L397.0,311.6 L393.4,310.4Z"/>
<path fill="#ffff99" stroke="#ffff99" stroke-width="0.6" stroke-linejoin="round" d="M439.0,288.0 L444.0,285.0 L450.0,283.0 L456.0,281.0 L464.0,280.0 L472.0,279.6 L480.0,281.0 L488.0,282.0 L494.0,282.4 L494.0,300.0 L484.0,299.0 L478.0,297.0 L472.0,298.0 L466.0,299.0 L460.0,298.0 L454.0,297.0 L448.0,296.0 L443.0,294.0 L440.0,291.0Z"/>
<path fill="#ffffff" stroke="#ffffff" stroke-width="0.6" stroke-linejoin="round" d="M469.0,296.0 L476.0,292.0 L484.0,288.0 L489.0,287.0 L489.6,290.0 L484.0,292.0 L478.0,295.0 L472.0,297.6Z"/>
<path fill="#ffffff" stroke="#ffffff" stroke-width="0.6" stroke-linejoin="round" d="M441.0,291.0 L446.0,288.0 L454.0,286.4 L456.0,288.0 L450.0,290.4 L444.0,293.0Z"/>
<path fill="#ffff99" stroke="#ffff99" stroke-width="0.6" stroke-linejoin="round" d="M472.0,302.0 L480.0,303.0 L488.0,304.0 L494.0,305.0 L494.0,334.0 L468.0,334.0 L469.0,322.0 L471.0,314.0 L472.0,308.0Z"/>
<path fill="#ffc408" stroke="#ffc408" stroke-width="0.6" stroke-linejoin="round" d="M301.6,218.4 L306.0,216.8 L312.0,217.4 L316.4,220.0 L320.4,223.6 L319.2,226.4 L315.0,225.2 L311.0,223.2 L307.0,222.2 L302.6,220.6Z"/>
<path fill="#ffc408" stroke="#ffc408" stroke-width="0.6" stroke-linejoin="round" d="M340.0,232.0 L348.0,231.6 L347.0,233.6 L341.0,234.0Z"/>
<path fill="#ffc408" stroke="#ffc408" stroke-width="0.6" stroke-linejoin="round" d="M286.6,238.4 L291.0,238.4 L290.6,240.0 L286.6,240.0Z"/>
<path fill="#00d5ee" stroke="#00d5ee" stroke-width="0.6" stroke-linejoin="round" d="M184.0,112.0 L491.0,112.0 L491.0,221.0 L484.0,218.0 L478.0,215.0 L472.0,213.0 L466.0,211.0 L462.0,207.6 L456.0,207.0 L450.0,205.6 L444.0,204.0 L440.0,202.0 L434.0,200.0 L428.0,199.0 L422.0,198.0 L421.0,194.0 L418.0,190.0 L414.0,191.0 L409.0,197.0 L407.0,193.0 L403.0,191.0 L400.0,187.0 L404.0,185.0 L407.0,182.0 L408.0,177.0 L410.0,173.0 L407.0,171.0 L407.0,165.0 L408.0,159.0 L406.0,155.0 L400.0,153.0 L394.0,151.0 L386.0,150.0 L381.0,148.0 L382.0,143.0 L378.0,141.0 L368.0,140.0 L370.0,139.4 L380.0,139.0 L390.0,138.6 L393.0,136.0 L390.0,134.0 L380.0,132.5 L370.0,131.5 L361.0,131.0 L353.0,130.0 L349.0,128.6 L339.0,128.0 L327.0,128.0 L317.0,127.0 L314.0,127.0 L307.0,126.0 L302.0,125.0 L297.0,129.0 L291.0,132.0 L287.0,131.0 L284.0,128.0 L279.0,125.4 L273.0,124.0 L265.0,124.0 L259.0,126.0 L251.0,129.0 L245.0,131.0 L240.0,134.0 L237.0,136.0 L243.0,136.6 L249.0,138.0 L259.0,139.0 L267.0,139.4 L271.0,141.0 L267.0,143.0 L259.0,142.6 L251.0,143.4 L245.0,145.0 L241.0,147.0 L235.0,148.6 L229.0,150.0 L223.0,152.0 L220.0,155.0 L213.0,157.4 L205.0,160.0 L197.0,161.0 L191.0,160.6 L184.0,162.6Z"/>
<path fill="#ffffff" stroke="#ffffff" stroke-width="0.6" stroke-linejoin="round" d="M230.0,141.0 L235.0,139.0 L242.0,139.0 L241.0,141.0 L233.0,142.0Z"/>
<path fill="#ffffff" stroke="#ffffff" stroke-width="0.6" stroke-linejoin="round" d="M188.0,157.4 L193.0,156.2 L194.6,158.6 L191.0,160.2 L188.0,159.4Z"/>
<path fill="#ffffff" stroke="#ffffff" stroke-width="0.6" stroke-linejoin="round" d="M410.0,176.0 L414.0,174.0 L424.0,174.6 L425.0,177.0 L418.0,178.0 L411.0,178.0Z"/>
<path fill="#ffffff" stroke="#ffffff" stroke-width="0.6" stroke-linejoin="round" d="M443.0,188.0 L448.0,186.0 L453.0,187.0 L456.0,190.0 L451.0,191.4 L445.0,190.6Z"/>
<path fill="#ffffff" stroke="#ffffff" stroke-width="0.6" stroke-linejoin="round" d="M444.0,121.0 L449.0,119.0 L454.0,120.0 L453.6,123.4 L448.0,124.2 L444.0,123.0Z"/>
<path fill="#ffffff" stroke="#ffffff" stroke-width="0.6" stroke-linejoin="round" d="M480.0,117.0 L488.0,117.0 L488.0,119.4 L480.0,119.4Z"/>
<path fill="#ffffff" stroke="#ffffff" stroke-width="0.6" stroke-linejoin="round" d="M414.0,190.6 L417.0,189.6 L421.0,193.0 L422.0,198.0 L417.0,197.0 L413.6,194.0Z"/>
<path fill="#00d5ee" stroke="#00d5ee" stroke-width="0.6" stroke-linejoin="round" d="M184.0,168.0 L193.0,169.0 L196.0,173.0 L199.0,177.0 L203.0,180.0 L207.0,181.0 L203.0,183.0 L200.0,186.0 L200.0,190.0 L203.0,191.0 L206.0,188.0 L213.0,185.6 L220.6,184.4 L226.0,186.4 L227.0,189.6 L223.0,190.4 L217.0,191.0 L212.0,193.0 L208.0,196.0 L209.0,200.0 L213.0,204.0 L209.0,206.0 L203.0,207.0 L199.0,208.4 L195.0,210.0 L191.0,214.0 L187.0,217.0 L184.0,217.0Z"/>
<path fill="#00d5ee" stroke="#00d5ee" stroke-width="0.6" stroke-linejoin="round" d="M305.0,166.0 L305.4,159.0 L309.0,152.0 L313.0,152.6 L319.0,156.0 L325.0,158.0 L331.0,160.0 L337.0,161.0 L336.6,164.0 L329.0,164.6 L319.0,165.0 L311.0,166.6Z"/>
<path fill="#00d5ee" stroke="#00d5ee" stroke-width="0.6" stroke-linejoin="round" d="M385.0,186.0 L388.0,186.0 L388.0,188.6 L385.0,188.6Z"/>
<path fill="#00d5ee" stroke="#00d5ee" stroke-width="0.6" stroke-linejoin="round" d="M399.0,185.0 L403.0,185.0 L403.0,190.0 L400.0,189.0Z"/>
<path fill="#00d5ee" stroke="#00d5ee" stroke-width="0.6" stroke-linejoin="round" d="M385.0,186.0 L388.0,186.0 L388.0,189.0 L385.0,189.0Z"/>
<use href="#coast"/>
</g>
<line x1="250.5" y1="330.5" x2="250.5" y2="324.7" stroke="#000" stroke-width="0.8"/><line x1="250.5" y1="113.5" x2="250.5" y2="119.3" stroke="#000" stroke-width="0.8"/><text x="250.5" y="349" font-size="13.8" text-anchor="middle" textLength="37.5" lengthAdjust="spacingAndGlyphs">15°W</text>
<line x1="316.5" y1="330.5" x2="316.5" y2="324.7" stroke="#000" stroke-width="0.8"/><line x1="316.5" y1="113.5" x2="316.5" y2="119.3" stroke="#000" stroke-width="0.8"/><text x="316.5" y="349" font-size="13.8" text-anchor="middle" textLength="15.4" lengthAdjust="spacingAndGlyphs">0°</text>
<line x1="381.5" y1="330.5" x2="381.5" y2="324.7" stroke="#000" stroke-width="0.8"/><line x1="381.5" y1="113.5" x2="381.5" y2="119.3" stroke="#000" stroke-width="0.8"/><text x="381.5" y="349" font-size="13.8" text-anchor="middle" textLength="32.7" lengthAdjust="spacingAndGlyphs">15°E</text>
<line x1="447.5" y1="330.5" x2="447.5" y2="324.7" stroke="#000" stroke-width="0.8"/><line x1="447.5" y1="113.5" x2="447.5" y2="119.3" stroke="#000" stroke-width="0.8"/><text x="447.5" y="349" font-size="13.8" text-anchor="middle" textLength="32.7" lengthAdjust="spacingAndGlyphs">30°E</text>
<line x1="185.5" y1="265.5" x2="191.3" y2="265.5" stroke="#000" stroke-width="0.8"/><line x1="489.5" y1="265.5" x2="483.7" y2="265.5" stroke="#000" stroke-width="0.8"/><text x="143.4" y="270.2" font-size="13.8" textLength="33.8" lengthAdjust="spacingAndGlyphs">45°N</text>
<line x1="185.5" y1="199.5" x2="191.3" y2="199.5" stroke="#000" stroke-width="0.8"/><line x1="489.5" y1="199.5" x2="483.7" y2="199.5" stroke="#000" stroke-width="0.8"/><text x="143.4" y="204.2" font-size="13.8" textLength="33.8" lengthAdjust="spacingAndGlyphs">60°N</text>
<line x1="185.5" y1="134.5" x2="191.3" y2="134.5" stroke="#000" stroke-width="0.8"/><line x1="489.5" y1="134.5" x2="483.7" y2="134.5" stroke="#000" stroke-width="0.8"/><text x="143.4" y="139.2" font-size="13.8" textLength="33.8" lengthAdjust="spacingAndGlyphs">75°N</text>
<rect x="185.5" y="113.5" width="304" height="217" fill="none" stroke="#000" stroke-width="1.33"/>
<use href="#cbar"/>
</g>
</svg>
</div>
</body></html>
